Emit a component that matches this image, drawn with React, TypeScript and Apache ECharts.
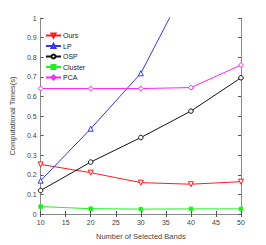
import React, { useEffect, useRef } from "react";
import * as echarts from "echarts";

const bands = [10, 20, 30, 40, 50];
const ours = [0.253, 0.211, 0.16, 0.152, 0.165];
const lp = [0.17, 0.435, 0.718, 1.21, 1.7];
const osp = [0.12, 0.265, 0.39, 0.525, 0.695];
const cluster = [0.038, 0.027, 0.025, 0.026, 0.026];
const pca = [0.64, 0.64, 0.64, 0.645, 0.76];
const seriesNames = ["Ours", "LP", "OSP", "Cluster", "PCA"];

const FONT = "Liberation Sans";

export default function App() {
  const ref = useRef<HTMLDivElement>(null);
  useEffect(() => {
    const chart = echarts.init(ref.current!, null, { renderer: "svg" });
    const mk = (name: string, data: number[], color: string, symbol: string, size: number, rotate = 0, fill = "#fff") => ({
      name,
      type: "line",
      data: bands.map((b, i) => [b, data[i]]),
      symbol,
      symbolSize: size,
      symbolRotate: rotate,
      showAllSymbol: true,
      lineStyle: { color, width: 1 },
      itemStyle: { color: fill, borderColor: color, borderWidth: 1 },
      clip: true,
      z: 3,
    });
    const axisCommon = {
      axisLine: { show: true, lineStyle: { color: "#8a8a8a", width: 1 } },
      axisTick: { show: true, inside: true, length: 3, lineStyle: { color: "#555" } },
      splitLine: { show: false },
    };
    chart.setOption({
      animation: false,
      backgroundColor: "#fff",
      textStyle: { fontFamily: FONT },
      grid: { left: 34.5, right: 25, top: 18, bottom: 28, containLabel: false },
      legend: {
        orient: "vertical",
        left: 40,
        top: 27,
        itemWidth: 15,
        itemHeight: 5,
        itemGap: 3.5,
        textStyle: { fontSize: 7, color: "#222", fontFamily: FONT, padding: [0, 0, 0, -3] },
        data: seriesNames,
      },
      xAxis: [
        {
          type: "value",
          min: 10,
          max: 50,
          interval: 5,
          name: "Number of Selected Bands",
          nameLocation: "middle",
          nameGap: 18,
          nameTextStyle: { fontSize: 7.5, color: "#444", fontFamily: FONT },
          axisLabel: { fontSize: 7, color: "#444", margin: 5, fontFamily: FONT },
          ...axisCommon,
        },
        {
          type: "value",
          position: "top",
          min: 10,
          max: 50,
          interval: 5,
          axisLabel: { show: false },
          ...axisCommon,
        },
      ],
      yAxis: [
        {
          type: "value",
          min: 0,
          max: 1,
          interval: 0.1,
          name: "Computational Times(s)",
          nameLocation: "middle",
          nameGap: 19,
          nameTextStyle: { fontSize: 7.5, color: "#444", fontFamily: FONT },
          axisLabel: {
            fontSize: 7,
            color: "#444",
            margin: 4,
            fontFamily: FONT,
            formatter: (v: number) => (Math.round(v * 10) / 10).toString(),
          },
          ...axisCommon,
        },
        {
          type: "value",
          position: "right",
          min: 0,
          max: 1,
          interval: 0.1,
          axisLabel: { show: false },
          ...axisCommon,
        },
      ],
      series: [
        mk(seriesNames[0], ours, "#ff1a1a", "triangle", 5, 180),
        mk(seriesNames[1], lp, "#3333ff", "triangle", 5),
        mk(seriesNames[2], osp, "#111111", "circle", 4.5),
        mk(seriesNames[3], cluster, "#22ee22", "rect", 3.5, 0, "#22ee22"),
        mk(seriesNames[4], pca, "#ff22ff", "diamond", 5),
      ],
    });
    return () => chart.dispose();
  }, []);
  return (
    <div
      ref={ref}
      style={{ position: "absolute", left: 0, top: 0, width: 266, height: 245, background: "#fff" }}
    />
  );
}
